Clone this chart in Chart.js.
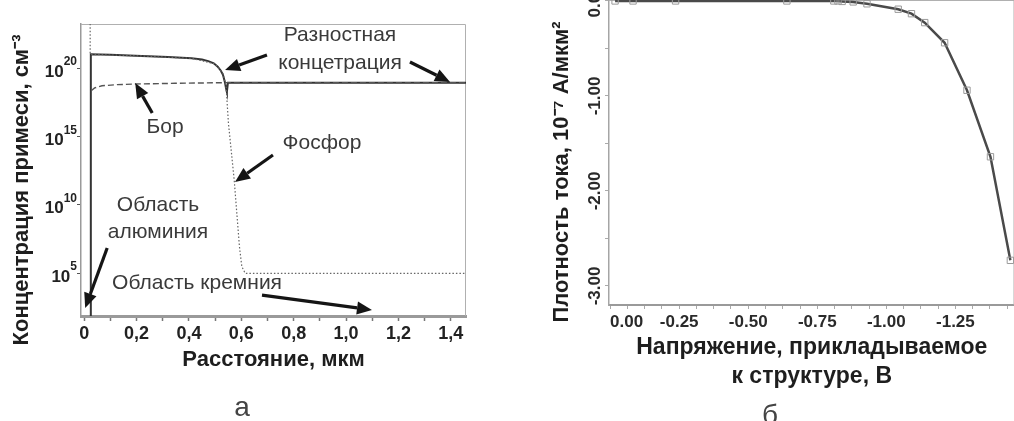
<!DOCTYPE html>
<html lang="ru">
<head>
<meta charset="utf-8">
<title>Профиль примеси и плотность тока</title>
<script src="https://cdn.jsdelivr.net/npm/chart.js@4.4.1/dist/chart.umd.min.js"></script>
<style>
  html, body { margin: 0; padding: 0; background: #fff; overflow: hidden; }
  body { width: 1014px; height: 421px; position: relative; }
  .panel { position: absolute; }
  #panelA { left: 0; top: 0; }
  #panelB { left: 520px; top: -30px; }
</style>
</head>
<body>
<div class="panel" id="panelA"><canvas id="concChart" width="500" height="421"></canvas></div>
<div class="panel" id="panelB"><canvas id="currentChart" width="500" height="451"></canvas></div>
<script>
// ---- панель а: концентрация примеси, см^-3 ----
// разностная концентрация (сплошная)
const diffDist = [0.0255, 0.0255, 0.1, 0.22, 0.32, 0.41, 0.45, 0.474, 0.495, 0.51, 0.522, 0.53, 0.537, 0.542, 0.545, 0.549, 1.46];
const diffConc = [1e1, 1.0e21, 9.3e20, 7.6e20, 6.3e20, 5.1e20, 4.2e20, 3.2e20, 2.2e20, 1.26e20, 6.3e19, 3.2e19, 1.0e19, 3.2e18, 1.8e18, 8.5e18, 8.5e18];
// бор (штриховая)
const boronDist = [0.027, 0.04, 0.068, 0.12, 0.195, 0.347, 0.538, 1.46];
const boronConc = [2.2e18, 3.5e18, 5.0e18, 6.0e18, 6.8e18, 7.6e18, 8.5e18, 8.5e18];
// фосфор (пунктир)
const phosDist = [0.023, 0.023, 0.22, 0.41, 0.5, 0.53, 0.542, 0.551, 0.564, 0.573, 0.583, 0.593, 0.602, 0.615, 1.46];
const phosConc = [1e24, 1.0e21, 7.6e20, 5.1e20, 2e20, 4e19, 4.3e18, 8.9e15, 3.2e13, 6.3e11, 2.3e9, 8.5e6, 3.0e5, 9.5e4, 9.5e4];

const distTicks = [0, 0.1, 0.2, 0.3, 0.4, 0.5, 0.6, 0.7, 0.8, 0.9, 1.0, 1.1, 1.2, 1.3, 1.4];
const distTickValues = [0, 0.2, 0.4, 0.6, 0.8, 1.0, 1.2, 1.4];
const distTickLabels = ['0', '0,2', '0,4', '0,6', '0,8', '1,0', '1,2', '1,4'];
const concTickValues = [1e5, 1e10, 1e15, 1e20];
const concTickBase = '10';
const concTickExps = ['5', '10', '15', '20'];

// ---- панель б: ВАХ ----
const voltage = [-0.018, -0.083, -0.237, -0.64, -0.81, -0.825, -0.84, -0.88, -0.93, -1.043, -1.091, -1.139, -1.211, -1.292, -1.377, -1.449];
const current = [0, 0, 0, 0, 0, 0, -0.005, -0.01, -0.03, -0.087, -0.134, -0.228, -0.44, -0.94, -1.64, -2.73];

const voltTicks = [-1.4375, -1.375, -1.3125, -1.25, -1.1875, -1.125, -1.0625, -1.0, -0.9375, -0.875, -0.8125, -0.75,
                   -0.6875, -0.625, -0.5625, -0.5, -0.4375, -0.375, -0.3125, -0.25, -0.1875, -0.125, -0.0625, 0];
const voltTickValues = [0, -0.25, -0.5, -0.75, -1.0, -1.25];
const voltTickLabels = ['0.00', '-0.25', '-0.50', '-0.75', '-1.00', '-1.25'];
const currTicks = [-3, -2.5, -2, -1.5, -1, -0.5, 0];
const currTickValues = [0, -1, -2, -3];
const currTickLabels = ['0.00', '-1.00', '-2.00', '-3.00'];

// подписи на панели а (в координатах данных: x — мкм, e — степень десяти)
const notes = [
  { text: 'Разностная', x: 0.977, e: 22.41 },
  { text: 'концетрация', x: 0.977, e: 20.37 },
  { text: 'Бор', x: 0.309, e: 15.68 },
  { text: 'Фосфор', x: 0.908, e: 14.51 },
  { text: 'Область', x: 0.282, e: 9.98 },
  { text: 'алюминия', x: 0.282, e: 8.0 },
  { text: 'Область кремния', x: 0.431, e: 4.27 }
];
const arrows = [
  { from: [0.698, 20.95], to: [0.538, 19.85] },
  { from: [1.244, 20.44], to: [1.397, 18.98] },
  { from: [0.26, 16.71], to: [0.195, 18.9] },
  { from: [0.721, 13.64], to: [0.576, 11.66] },
  { from: [0.088, 6.83], to: [0.004, 2.44] },
  { from: [0.679, 3.39], to: [1.099, 2.30] }
];

const FONT = '"Liberation Sans", Arial, sans-serif';
Chart.defaults.font.family = FONT;
Chart.defaults.animation = false;

function toPoints(xs, ys) {
  return xs.map((x, i) => ({ x: x, y: ys[i] }));
}

function pickLabel(values, labels) {
  return function(v) {
    const i = values.findIndex(t => Math.abs(t - v) < 1e-6);
    return i >= 0 ? labels[i] : '';
  };
}

function drawArrow(ctx, x1, y1, x2, y2) {
  const ang = Math.atan2(y2 - y1, x2 - x1);
  const head = 15, half = 6.5;
  const bx = x2 - head * Math.cos(ang), by = y2 - head * Math.sin(ang);
  ctx.beginPath();
  ctx.moveTo(x1, y1);
  ctx.lineTo(bx, by);
  ctx.lineWidth = 3.2;
  ctx.strokeStyle = '#151515';
  ctx.stroke();
  ctx.beginPath();
  ctx.moveTo(x2, y2);
  ctx.lineTo(bx + half * Math.sin(ang), by - half * Math.cos(ang));
  ctx.lineTo(bx - half * Math.sin(ang), by + half * Math.cos(ang));
  ctx.closePath();
  ctx.fillStyle = '#151515';
  ctx.fill();
}

function sideText(ctx, text, x, y, font, color, rotate) {
  ctx.save();
  ctx.translate(x, y);
  if (rotate) ctx.rotate(-Math.PI / 2);
  ctx.font = font;
  ctx.fillStyle = color;
  ctx.textAlign = 'center';
  ctx.textBaseline = 'middle';
  ctx.fillText(text, 0, 0);
  ctx.restore();
}

// рамка вокруг области графика (верх и правая сторона)
const framePlugin = {
  id: 'frame',
  beforeDatasetsDraw(chart) {
    const { ctx, chartArea: a } = chart;
    ctx.save();
    ctx.strokeStyle = '#b0b0b0';
    ctx.lineWidth = 1;
    ctx.beginPath();
    ctx.moveTo(a.left, a.top + 0.5);
    ctx.lineTo(a.right - 0.5, a.top + 0.5);
    ctx.lineTo(a.right - 0.5, a.bottom);
    ctx.stroke();
    ctx.restore();
  }
};

const notesPlugin = {
  id: 'notes',
  afterDatasetsDraw(chart) {
    const { ctx, scales: { x, y } } = chart;
    ctx.save();
    notes.forEach(n => {
      sideText(ctx, n.text, x.getPixelForValue(n.x), y.getPixelForValue(Math.pow(10, n.e)),
        '21px ' + FONT, '#3a3a3a', false);
    });
    arrows.forEach(a => {
      drawArrow(ctx,
        x.getPixelForValue(a.from[0]), y.getPixelForValue(Math.pow(10, a.from[1])),
        x.getPixelForValue(a.to[0]), y.getPixelForValue(Math.pow(10, a.to[1])));
    });
    ctx.restore();
  },
  afterDraw(chart) {
    const { ctx, scales: { y } } = chart;
    // подписи степеней десяти: "10" и показатель степени
    const right = y.right - 4;
    ctx.save();
    ctx.fillStyle = '#222';
    ctx.textBaseline = 'middle';
    concTickValues.forEach((v, i) => {
      const py = y.getPixelForValue(v);
      ctx.font = 'bold 12px ' + FONT;
      const w = ctx.measureText(concTickExps[i]).width;
      ctx.textAlign = 'left';
      ctx.fillText(concTickExps[i], right - w, py - 6);
      ctx.font = 'bold 17px ' + FONT;
      ctx.textAlign = 'right';
      ctx.fillText(concTickBase, right - w, py + 4);
    });
    ctx.restore();
    sideText(ctx, 'Концентрация примеси, см⁻³', 22, 190, 'bold 22px ' + FONT, '#1e1e1e', true);
    sideText(ctx, 'а', 242, 408, '28px "Liberation Sans Narrow", ' + FONT, '#444', false);
  }
};

const currentPlugin = {
  id: 'currentTitles',
  afterDraw(chart) {
    const ctx = chart.ctx;
    sideText(ctx, 'Плотность тока, 10⁻⁷ А/мкм²', 42, 202, 'bold 22px ' + FONT, '#1e1e1e', true);
    sideText(ctx, 'б', 250, 446, '28px "Liberation Sans Narrow", ' + FONT, '#444', false);
  }
};

new Chart(document.getElementById('concChart'), {
  type: 'scatter',
  data: {
    datasets: [
      {
        label: 'Фосфор',
        data: toPoints(phosDist, phosConc),
        showLine: true, pointRadius: 0,
        borderColor: '#666', borderWidth: 1.2, borderDash: [1.5, 2]
      },
      {
        label: 'Бор',
        data: toPoints(boronDist, boronConc),
        showLine: true, pointRadius: 0,
        borderColor: '#555', borderWidth: 1.4, borderDash: [6, 3]
      },
      {
        label: 'Разностная концентрация',
        data: toPoints(diffDist, diffConc),
        showLine: true, pointRadius: 0,
        borderColor: '#333', borderWidth: 2
      }
    ]
  },
  options: {
    responsive: false,
    layout: { padding: { left: 0, top: 24, right: 34, bottom: 0 } },
    plugins: { legend: { display: false }, tooltip: { enabled: false } },
    scales: {
      x: {
        type: 'linear',
        min: -0.012,
        max: 1.458,
        afterBuildTicks: s => { s.ticks = distTicks.map(v => ({ value: v })); },
        afterFit: s => { s.height = 105; },
        ticks: {
          autoSkip: false, maxRotation: 0, padding: 2,
          color: '#222', font: { size: 18, weight: 'bold' },
          callback: pickLabel(distTickValues, distTickLabels)
        },
        grid: { drawOnChartArea: false, tickLength: 5, color: '#777', tickWidth: 1.5 },
        border: { color: '#9a9a9a', width: 3 },
        title: {
          display: true, text: 'Расстояние, мкм', color: '#1e1e1e',
          font: { size: 22, weight: 'bold' }, padding: { top: 0, bottom: 48 }
        }
      },
      y: {
        type: 'logarithmic',
        min: 72,
        max: 1.66e23,
        afterBuildTicks: s => { s.ticks = concTickValues.map(v => ({ value: v })); },
        afterFit: s => { s.width = 81; },
        ticks: { display: false },
        grid: { drawOnChartArea: false, tickLength: 4, color: '#555' },
        border: { color: '#9a9a9a', width: 1.5 }
      }
    }
  },
  plugins: [framePlugin, notesPlugin]
});

new Chart(document.getElementById('currentChart'), {
  type: 'scatter',
  data: {
    datasets: [{
      label: 'Плотность тока',
      data: toPoints(voltage, current),
      showLine: true,
      borderColor: '#4a4a4a', borderWidth: 2.5,
      pointStyle: 'rect', pointRadius: 4.5,
      pointBorderColor: '#9a9a9a', pointBorderWidth: 1, pointBackgroundColor: 'rgba(0,0,0,0)'
    }]
  },
  options: {
    responsive: false,
    layout: { padding: { left: 0, top: 30, right: 3, bottom: 0 } },
    plugins: { legend: { display: false }, tooltip: { enabled: false } },
    scales: {
      x: {
        type: 'linear',
        reverse: true,
        min: -1.464,
        max: 0.004,
        afterBuildTicks: s => { s.ticks = voltTicks.map(v => ({ value: v })); },
        afterFit: s => { s.height = 116; },
        ticks: {
          autoSkip: false, maxRotation: 0, padding: 3, align: 'inner',
          color: '#2a2a2a', font: { size: 17, weight: 'bold' },
          callback: pickLabel(voltTickValues, voltTickLabels)
        },
        grid: { drawOnChartArea: false, tickLength: 4, color: '#aaa' },
        border: { color: '#9a9a9a', width: 2 },
        title: {
          display: true, text: ['Напряжение, прикладываемое', 'к структуре, В'], color: '#1e1e1e',
          font: { size: 23, weight: 'bold', lineHeight: 1.25 }, padding: { top: 0, bottom: 30 }
        }
      },
      y: {
        min: -3.2,
        max: 0.01,
        afterBuildTicks: s => { s.ticks = currTicks.map(v => ({ value: v })); },
        afterFit: s => { s.width = 89; },
        ticks: {
          autoSkip: false, minRotation: 90, maxRotation: 90, crossAlign: 'center', padding: -10,
          color: '#2a2a2a', font: { size: 17, weight: 'bold' },
          callback: pickLabel(currTickValues, currTickLabels)
        },
        grid: { drawOnChartArea: false, tickLength: 4, color: '#aaa' },
        border: { color: '#a5a5a5', width: 1.5 }
      }
    }
  },
  plugins: [framePlugin, currentPlugin]
});
</script>
</body>
</html>
